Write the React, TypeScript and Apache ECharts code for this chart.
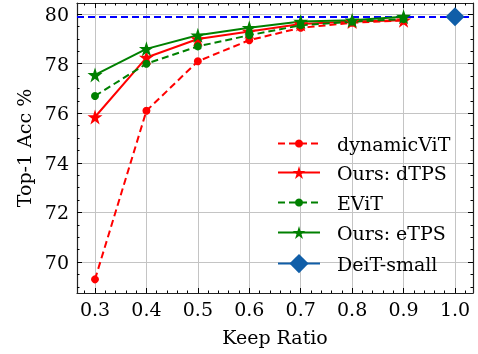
import React, { useEffect, useRef } from "react";
import * as echarts from "echarts";

const keepRatio = [0.3, 0.4, 0.5, 0.6, 0.7, 0.8, 0.9];
const dynamicViT = [69.3, 76.1, 78.1, 78.95, 79.45, 79.65, 79.75];
const oursDTPS = [75.85, 78.25, 79.0, 79.3, 79.6, 79.7, 79.75];
const eViT = [76.7, 78.0, 78.7, 79.15, 79.55, 79.7, 79.8];
const oursETPS = [77.55, 78.6, 79.15, 79.45, 79.7, 79.75, 79.9];
const deitRatio = [1.0];
const deitSmall = [79.9];

const xMajor = [0.3, 0.4, 0.5, 0.6, 0.7, 0.8, 0.9, 1.0];
const xMinor = [0.28, 0.32, 0.34, 0.36, 0.38, 0.42, 0.44, 0.46, 0.48, 0.52, 0.54, 0.56, 0.58, 0.62, 0.64, 0.66, 0.68, 0.72, 0.74, 0.76, 0.78, 0.82, 0.84, 0.86, 0.88, 0.92, 0.94, 0.96, 0.98, 1.02];
const yMajor = [70, 72, 74, 76, 78, 80];
const yMinor = [69, 69.5, 70.5, 71, 71.5, 72.5, 73, 73.5, 74.5, 75, 75.5, 76.5, 77, 77.5, 78.5, 79, 79.5, 80];

const X_MIN = 0.265, X_MAX = 1.035, X_STEP = 0.005;
const Y_MIN = 68.75, Y_MAX = 80.45, Y_STEP = 0.05;

const FONT = "DejaVu Serif";

const starPath = (() => {
  const pts: string[] = [];
  for (let i = 0; i < 10; i++) {
    const r = i % 2 === 0 ? 1 : 0.382;
    const a = (Math.PI / 5) * i - Math.PI / 2;
    pts.push(`${(r * Math.cos(a)).toFixed(4)},${(r * Math.sin(a)).toFixed(4)}`);
  }
  return "path://M" + pts.join("L") + "Z";
})();

function zip(xs: number[], ys: number[]) {
  return xs.map((x, i) => [x, ys[i]]);
}

export default function App() {
  const ref = useRef<HTMLDivElement>(null);
  useEffect(() => {
    if (!ref.current) return;
    const chart = echarts.init(ref.current, null, { renderer: "svg" });
    const tickBase = { inside: true, lineStyle: { color: "#000", width: 1 } };
    const mkX = (pos: string, values: number[], len: number, main: boolean) => ({
      type: "value",
      position: pos,
      min: X_MIN,
      max: X_MAX,
      interval: X_STEP,
      axisLine: { show: main, lineStyle: { color: "#222", width: 1.2 } },
      axisTick: { ...tickBase, customValues: values, length: len },
      axisLabel: main && pos === "bottom"
        ? { show: true, customValues: xMajor, formatter: (v: number) => v.toFixed(1), fontFamily: FONT, fontSize: 19, color: "#000", margin: 6 }
        : { show: false },
      splitLine: main && pos === "bottom" ? { show: true, lineStyle: { color: "#c4c4c4", width: 1 } } : { show: false },
      name: main && pos === "bottom" ? "Keep Ratio" : "",
      nameLocation: "middle",
      nameGap: 34,
      nameTextStyle: { fontFamily: FONT, fontSize: 19, color: "#000" },
    });
    const mkY = (pos: string, values: number[], len: number, main: boolean) => ({
      type: "value",
      position: pos,
      min: Y_MIN,
      max: Y_MAX,
      interval: Y_STEP,
      axisLine: { show: main, lineStyle: { color: "#222", width: 1.2 } },
      axisTick: { ...tickBase, customValues: values, length: len },
      axisLabel: main && pos === "left"
        ? { show: true, customValues: yMajor, formatter: (v: number) => String(Math.round(v)), fontFamily: FONT, fontSize: 19, color: "#000", margin: 8 }
        : { show: false },
      splitLine: main && pos === "left" ? { show: true, lineStyle: { color: "#c4c4c4", width: 1 } } : { show: false },
      name: main && pos === "left" ? "Top-1 Acc %" : "",
      nameLocation: "middle",
      nameGap: 43,
      nameRotate: 90,
      nameTextStyle: { fontFamily: FONT, fontSize: 19, color: "#000" },
    });

    const mkLegend = (name: string, top: number, itemHeight: number) => ({
      data: [name],
      left: 277,
      top,
      itemWidth: 42,
      itemHeight,
      padding: 0,
      selectedMode: false,
      textStyle: { fontFamily: FONT, fontSize: 19, color: "#000", padding: [0, 0, 0, 12] },
    });

    const lineSeries = (name: string, ys: number[], color: string, dashed: boolean, star: boolean) => ({
      name,
      type: "line",
      data: zip(keepRatio, ys),
      symbol: star ? starPath : "circle",
      symbolSize: star ? 15 : 8,
      lineStyle: { color, width: 2, type: dashed ? [7, 4] : "solid" },
      itemStyle: { color },
      showSymbol: true,
      z: 3,
    });

    chart.setOption({
      animation: false,
      grid: { left: 77, top: 3, width: 396, height: 290, containLabel: false },
      xAxis: [
        mkX("bottom", xMajor, 5, true),
        mkX("bottom", xMinor, 2.5, false),
        mkX("top", xMajor, 5, true),
        mkX("top", xMinor, 2.5, false),
      ],
      yAxis: [
        mkY("left", yMajor, 5, true),
        mkY("left", yMinor, 2.5, false),
        mkY("right", yMajor, 5, true),
        mkY("right", yMinor, 2.5, false),
      ],
      legend: [
        mkLegend("dynamicViT", 134, 10),
        mkLegend("Ours: dTPS", 163, 16),
        mkLegend("EViT", 193, 10),
        mkLegend("Ours: eTPS", 223, 16),
        mkLegend("DeiT-small", 254, 24),
      ],
      series: [
        lineSeries("dynamicViT", dynamicViT, "#ff0000", true, false),
        lineSeries("Ours: dTPS", oursDTPS, "#ff0000", false, true),
        lineSeries("EViT", eViT, "#008000", true, false),
        lineSeries("Ours: eTPS", oursETPS, "#008000", false, true),
        {
          name: "DeiT-small",
          type: "line",
          data: zip(deitRatio, deitSmall),
          symbol: "diamond",
          symbolSize: 19,
          lineStyle: { color: "#105ea8", width: 2 },
          itemStyle: { color: "#105ea8" },
          z: 3,
          markLine: {
            silent: true,
            symbol: "none",
            label: { show: false },
            lineStyle: { color: "#0000ff", width: 2, type: [7, 4] },
            data: [{ yAxis: deitSmall[0] }],
            z: 2,
          },
        },
      ],
    });
    return () => chart.dispose();
  }, []);
  return <div ref={ref} style={{ position: "fixed", left: 0, top: 0, width: 478, height: 354 }} />;
}
